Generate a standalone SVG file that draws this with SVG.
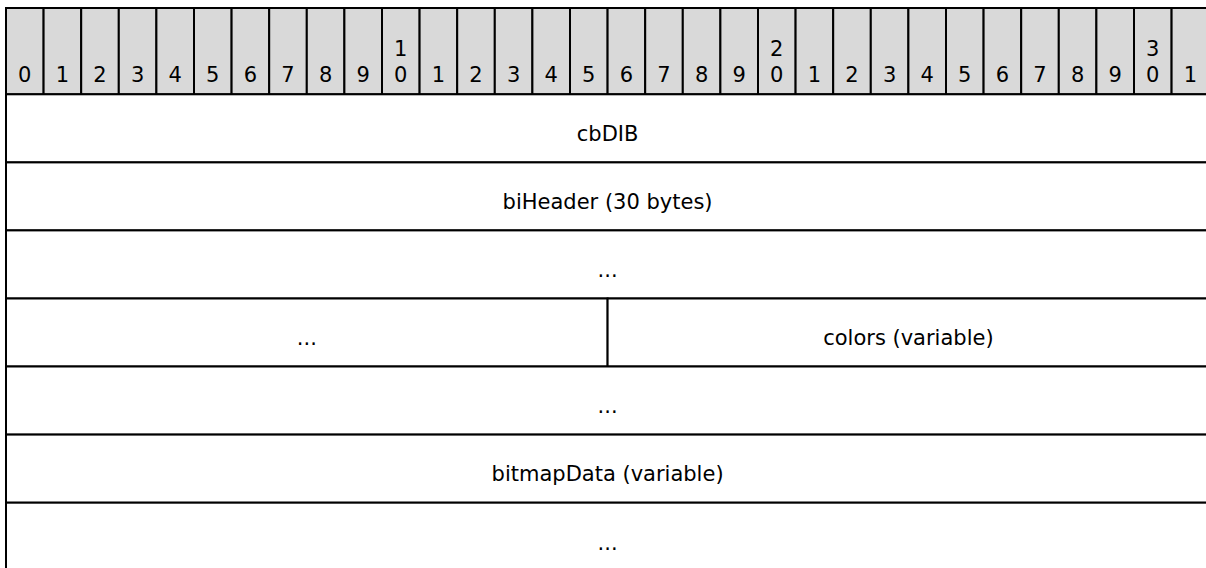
<svg xmlns="http://www.w3.org/2000/svg" width="1206" height="568" viewBox="0 0 1206 568">
<style>
.hc{fill:#d9d9d9;stroke:#000;stroke-width:2}
.f{fill:#fff;stroke:#000;stroke-width:2}
text{font-family:"DejaVu Sans","Liberation Sans",sans-serif;font-size:21px;fill:#000;text-anchor:middle}
</style>
<rect width="1206" height="568" fill="#fff"/>
<g id="header">
<rect class="hc" x="6" y="8" width="37.6" height="86.3"/>
<rect class="hc" x="43.6" y="8" width="37.6" height="86.3"/>
<rect class="hc" x="81.2" y="8" width="37.6" height="86.3"/>
<rect class="hc" x="118.8" y="8" width="37.6" height="86.3"/>
<rect class="hc" x="156.4" y="8" width="37.6" height="86.3"/>
<rect class="hc" x="194" y="8" width="37.6" height="86.3"/>
<rect class="hc" x="231.6" y="8" width="37.6" height="86.3"/>
<rect class="hc" x="269.2" y="8" width="37.6" height="86.3"/>
<rect class="hc" x="306.8" y="8" width="37.6" height="86.3"/>
<rect class="hc" x="344.4" y="8" width="37.6" height="86.3"/>
<rect class="hc" x="382" y="8" width="37.6" height="86.3"/>
<rect class="hc" x="419.6" y="8" width="37.6" height="86.3"/>
<rect class="hc" x="457.2" y="8" width="37.6" height="86.3"/>
<rect class="hc" x="494.8" y="8" width="37.6" height="86.3"/>
<rect class="hc" x="532.4" y="8" width="37.6" height="86.3"/>
<rect class="hc" x="570" y="8" width="37.6" height="86.3"/>
<rect class="hc" x="607.6" y="8" width="37.6" height="86.3"/>
<rect class="hc" x="645.2" y="8" width="37.6" height="86.3"/>
<rect class="hc" x="682.8" y="8" width="37.6" height="86.3"/>
<rect class="hc" x="720.4" y="8" width="37.6" height="86.3"/>
<rect class="hc" x="758" y="8" width="37.6" height="86.3"/>
<rect class="hc" x="795.6" y="8" width="37.6" height="86.3"/>
<rect class="hc" x="833.2" y="8" width="37.6" height="86.3"/>
<rect class="hc" x="870.8" y="8" width="37.6" height="86.3"/>
<rect class="hc" x="908.4" y="8" width="37.6" height="86.3"/>
<rect class="hc" x="946" y="8" width="37.6" height="86.3"/>
<rect class="hc" x="983.6" y="8" width="37.6" height="86.3"/>
<rect class="hc" x="1021.2" y="8" width="37.6" height="86.3"/>
<rect class="hc" x="1058.8" y="8" width="37.6" height="86.3"/>
<rect class="hc" x="1096.4" y="8" width="37.6" height="86.3"/>
<rect class="hc" x="1134" y="8" width="37.6" height="86.3"/>
<rect class="hc" x="1171.6" y="8" width="37.6" height="86.3"/>
<text x="24.8" y="81.7">0</text>
<text x="62.4" y="81.7">1</text>
<text x="100" y="81.7">2</text>
<text x="137.6" y="81.7">3</text>
<text x="175.2" y="81.7">4</text>
<text x="212.8" y="81.7">5</text>
<text x="250.4" y="81.7">6</text>
<text x="288" y="81.7">7</text>
<text x="325.6" y="81.7">8</text>
<text x="363.2" y="81.7">9</text>
<text x="400.8" y="55.7">1</text>
<text x="400.8" y="81.7">0</text>
<text x="438.4" y="81.7">1</text>
<text x="476" y="81.7">2</text>
<text x="513.6" y="81.7">3</text>
<text x="551.2" y="81.7">4</text>
<text x="588.8" y="81.7">5</text>
<text x="626.4" y="81.7">6</text>
<text x="664" y="81.7">7</text>
<text x="701.6" y="81.7">8</text>
<text x="739.2" y="81.7">9</text>
<text x="776.8" y="55.7">2</text>
<text x="776.8" y="81.7">0</text>
<text x="814.4" y="81.7">1</text>
<text x="852" y="81.7">2</text>
<text x="889.6" y="81.7">3</text>
<text x="927.2" y="81.7">4</text>
<text x="964.8" y="81.7">5</text>
<text x="1002.4" y="81.7">6</text>
<text x="1040" y="81.7">7</text>
<text x="1077.6" y="81.7">8</text>
<text x="1115.2" y="81.7">9</text>
<text x="1152.8" y="55.7">3</text>
<text x="1152.8" y="81.7">0</text>
<text x="1190.4" y="81.7">1</text>
</g>
<g id="cbDIB">
<rect class="f" x="6" y="94.3" width="1203.2" height="68.1"/>
<text x="607.6" y="141.1">cbDIB</text>
</g>
<g id="biHeader">
<rect class="f" x="6" y="162.4" width="1203.2" height="68"/>
<text x="607.6" y="209.2">biHeader (30 bytes)</text>
</g>
<g id="biHeader-cont1">
<rect class="f" x="6" y="230.4" width="1203.2" height="68.1"/>
<text x="607.6" y="277.2">...</text>
</g>
<g id="biHeader-cont2">
<rect class="f" x="6" y="298.5" width="601.6" height="68"/>
<text x="306.8" y="345.3">...</text>
</g>
<g id="colors">
<rect class="f" x="607.6" y="298.5" width="601.6" height="68"/>
<text x="908.4" y="345.3">colors (variable)</text>
</g>
<g id="colors-cont">
<rect class="f" x="6" y="366.5" width="1203.2" height="68.1"/>
<text x="607.6" y="413.3">...</text>
</g>
<g id="bitmapData">
<rect class="f" x="6" y="434.6" width="1203.2" height="68.1"/>
<text x="607.6" y="481.4">bitmapData (variable)</text>
</g>
<g id="bitmapData-cont">
<rect class="f" x="6" y="502.7" width="1203.2" height="68"/>
<text x="607.6" y="549.5">...</text>
</g>
<g id="connectors"></g>
</svg>
